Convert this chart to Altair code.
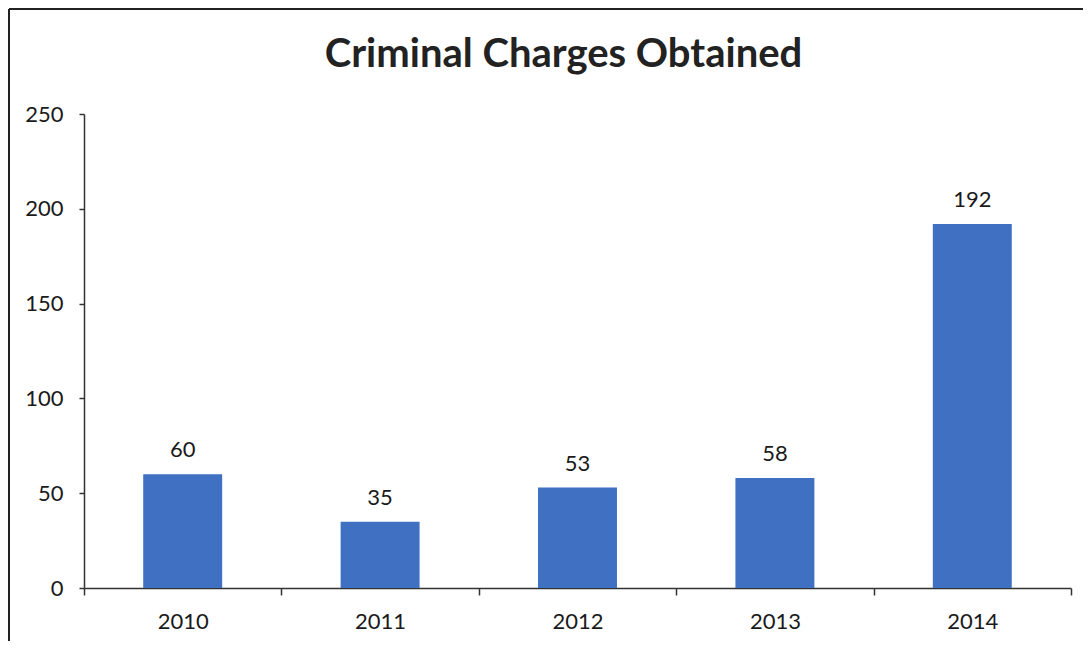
import altair as alt
import pandas as pd

years = ["2010", "2011", "2012", "2013", "2014"]
charges = [60, 35, 53, 58, 192]
y_ticks = [0, 50, 100, 150, 200, 250]
title_text = "Criminal Charges Obtained"

df = pd.DataFrame({"year": years, "charges": charges})

W, H = 987, 474
PAD = {"left": 76, "top": 106, "right": 12, "bottom": 53}
FONT = "Lato"
BLUE = "#3f70c2"
INK = "#1a1a1a"

base = alt.Chart(df)

x_enc = alt.X(
    "year:N",
    title=None,
    sort=years,
    scale=alt.Scale(paddingInner=0, paddingOuter=0),
    axis=alt.Axis(
        labelAngle=0,
        tickBand="extent",
        tickSize=7,
        labelPadding=16,
        labelFont=FONT,
        labelFontSize=22,
        labelColor=INK,
        domainColor="#333333",
        tickColor="#333333",
        domainWidth=1.5,
        tickWidth=1.5,
    ),
)
y_enc = alt.Y(
    "charges:Q",
    title=None,
    scale=alt.Scale(domain=[0, 250], nice=False),
    axis=alt.Axis(
        values=y_ticks,
        grid=False,
        tickSize=5,
        labelPadding=16,
        labelFont=FONT,
        labelFontSize=22,
        labelColor=INK,
        domainColor="#333333",
        tickColor="#333333",
        domainWidth=1.5,
        tickWidth=1.5,
    ),
)

bars = base.mark_bar(color=BLUE, width={"band": 0.4}).encode(x=x_enc, y=y_enc)
labels = base.mark_text(
    font=FONT, fontSize=22, color=INK, baseline="alphabetic", dy=-17
).encode(x=alt.X("year:N", sort=years), y="charges:Q", text="charges:Q")

frame_df = pd.DataFrame({"k": [0]})
top_border = alt.Chart(frame_df).mark_rule(color="#222222", strokeWidth=2).encode(
    x=alt.value(-PAD["left"] + 1), x2=alt.value(W + PAD["right"]), y=alt.value(-PAD["top"] + 1)
)
left_border = alt.Chart(frame_df).mark_rule(color="#222222", strokeWidth=2).encode(
    x=alt.value(-PAD["left"] + 1), y=alt.value(-PAD["top"] + 1), y2=alt.value(H + PAD["bottom"])
)

chart = (
    alt.layer(bars, labels, top_border, left_border)
    .properties(
        width=W,
        height=H,
        padding=PAD,
        autosize=alt.AutoSizeParams(type="none"),
        title=alt.TitleParams(
            title_text,
            font=FONT,
            fontSize=40,
            fontWeight="bold",
            color="#222222",
            anchor="middle",
            frame="group",
            baseline="alphabetic",
            offset=0,
            dy=99,
            dx=-14,
        ),
    )
    .configure(background="white")
    .configure_view(strokeWidth=0, stroke="transparent")
)

chart.save("out.html", embed_options={"renderer": "svg", "actions": False})
